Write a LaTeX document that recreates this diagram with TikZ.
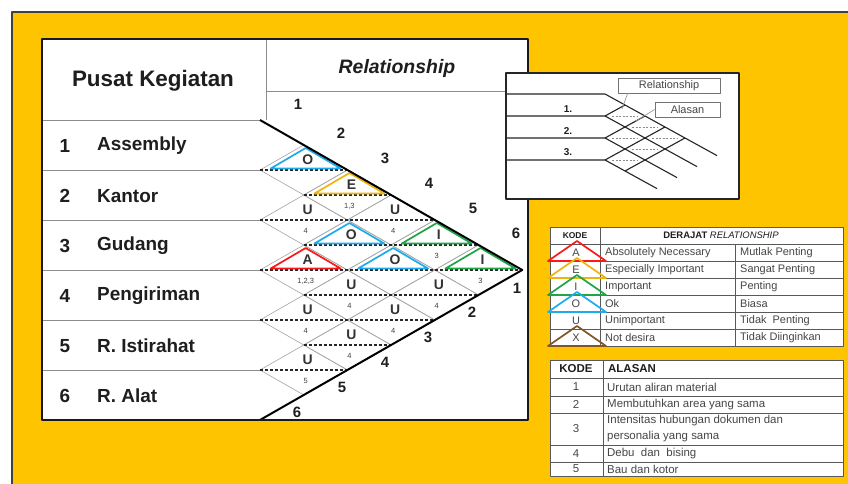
\documentclass[tikz,border=0pt]{standalone}
\usepackage{fontspec}
\setmainfont{Liberation Sans}
\definecolor{bgyellow}{RGB}{255,196,0}
\definecolor{triblue}{RGB}{30,170,235}
\definecolor{triyellow}{RGB}{240,180,10}
\definecolor{trigreen}{RGB}{30,165,70}
\definecolor{trired}{RGB}{250,25,25}
\definecolor{tribrown}{RGB}{130,85,40}
\definecolor{txt}{RGB}{30,30,30}
\definecolor{ltxt}{RGB}{70,70,70}
\begin{document}
\begin{tikzpicture}[x=1bp,y=-1bp,line join=round,
  rowline/.style={draw=black!45,line width=0.9bp},
  diam/.style={draw=black!35,line width=0.6bp},
  cline/.style={draw=black!85,line width=1.1bp,dash pattern=on 3bp off 2bp},
  bound/.style={draw=black,line width=2bp},
  tri/.style={line width=1.7bp},
  rowlab/.style={font=\fontsize{19}{22}\selectfont\bfseries,text=txt,inner sep=0pt},
  bnum/.style={font=\fontsize{15}{17}\selectfont\bfseries,text=txt,inner sep=0pt},
  letter/.style={font=\fontsize{14}{16}\selectfont\bfseries,text=black!80,inner sep=0pt},
  reason/.style={font=\fontsize{7.5}{9}\selectfont,text=black!75,inner sep=0pt},
  tabline/.style={draw=black!65,line width=0.8bp},
  legtxt/.style={font=\fontsize{11}{12}\selectfont,text=ltxt,inner sep=0pt},
  alstxt/.style={font=\fontsize{11.5}{13}\selectfont,text=ltxt,inner sep=0pt},
  minil/.style={draw=black!85,line width=1.1bp}]
\useasboundingbox (0,0) rectangle (848,484);
\fill[white] (0,0) rectangle (848,484);
\fill[bgyellow] (12,12) rectangle (848,484);
\draw[line width=1.8bp,black!75] (12,484) -- (12,12) -- (848,12);

% ---------- main table ----------
\fill[white] (42,39) rectangle (528,420);
\draw[rowline] (266,39) -- (266,120);
\draw[rowline] (266,91) -- (528,91);
\draw[rowline] (42,120) -- (260,120);
\foreach \y in {170,220,270,320,370} \draw[rowline] (42,\y) -- (260,\y);

\def\dd{43.7}
\foreach \i in {1,...,5}{
  \pgfmathtruncatemacro\ip{\i+1}
  \foreach \j in {\ip,...,6}{
    \pgfmathsetmacro\cx{260+(\j-\i)*\dd}
    \pgfmathsetmacro\cy{145+25*(\i+\j-2)}
    \draw[diam] (\cx-\dd,\cy) -- (\cx,\cy-25) -- (\cx+\dd,\cy) -- (\cx,\cy+25) -- cycle;
  }
}
\foreach \y/\a/\b in {170/0/2,195/1/3,220/0/4,245/1/5,270/0/6,295/1/5,320/0/4,345/1/3,370/0/2}
  \draw[cline] (260+\a*\dd,\y) -- (260+\b*\dd,\y);

\foreach \i/\j/\L/\c/\r in {1/2/O/triblue/{},1/3/E/triyellow/{1,3},2/3/U/none/4,1/4/U/none/4,
   2/4/O/triblue/{},1/5/I/trigreen/3,3/4/A/trired/{1,2,3},2/5/O/triblue/{},1/6/I/trigreen/3,
   3/5/U/none/4,2/6/U/none/4,4/5/U/none/4,3/6/U/none/4,4/6/U/none/4,5/6/U/none/5}{
  \pgfmathsetmacro\cx{260+(\j-\i)*\dd}
  \pgfmathsetmacro\cy{145+25*(\i+\j-2)}
  \draw[tri,draw=\c] (\cx-0.8*\dd+2,\cy-1.5) -- (\cx+2,\cy-22) -- (\cx+0.8*\dd+2,\cy-1.5) -- cycle;
  \node[letter] (L\i\j) at (\cx+4,\cy-10) {\L};
  \node[reason] (R\i\j) at (\cx+2,\cy+11) {\r};
}

\coordinate (TL) at (260,120);
\coordinate (AP) at (522.2,270);
\coordinate (BL) at (260,420);
\draw[bound] (TL) -- (AP) -- (BL);

\foreach \n/\x/\y in {1/298/104,2/341/133,3/385/158,4/429/183,5/473/208,6/516/233}
  \node[bnum] (T\n) at (\x,\y) {\n};
\foreach \n/\x/\y in {1/517/288,2/472/312,3/428/337,4/385/362,5/342/387,6/297/412}
  \node[bnum] (B\n) at (\x,\y) {\n};

\node[font=\fontsize{22.5}{26}\selectfont\bfseries,text=txt] (hdr) at (153,81) {Pusat Kegiatan};
\node[font=\fontsize{19.5}{22}\selectfont\bfseries\itshape,text=txt] (rel) at (397,68) {Relationship};
\foreach \n/\t [count=\k from 0] in {1/Assembly,2/Kantor,3/Gudang,4/Pengiriman,5/R. Istirahat,6/R. Alat}{
  \node[rowlab] (N\n) at (65,146+50*\k) {\n};
  \node[rowlab,anchor=west] (P\n) at (97,146+50*\k) {\t};
}
\draw[line width=1.9bp,black!90] (42,39) rectangle (528,420);

% ---------- inset explanation box ----------
\draw[draw=black!85,fill=white,line width=1.3bp] (506,73) rectangle (739,199);
\draw[minil] (506,94) -- (605,94) -- (717,155.6);
\draw[minil] (506,116) -- (605,116) -- (697,166.6);
\draw[minil] (506,138) -- (605,138) -- (677,177.6);
\draw[minil] (506,160) -- (605,160) -- (657,188.6);
\draw[minil] (605,116) -- (625,105);
\draw[minil] (605,138) -- (645,116);
\draw[minil] (605,160) -- (665,127);
\draw[minil] (625,171) -- (685,138);
\foreach \i/\j in {0/1,1/2,2/3,0/2,1/3,0/3}{
  \pgfmathsetmacro\mx{605+(\j-\i)*20}
  \pgfmathsetmacro\my{105+11*(\i+\j)}
  \draw[draw=black!45,line width=0.8bp,dash pattern=on 2bp off 1.5bp] (\mx-13,\my) -- (\mx+13,\my);
}
\foreach \n/\y in {1/109,2/131,3/152}
  \node[font=\fontsize{10}{12}\selectfont\bfseries,text=txt,inner sep=0pt] (m\n) at (568,\y) {\n.};
\node[draw=black!55,line width=0.8bp,fill=white,minimum width=102bp,minimum height=15bp,inner sep=0pt,
  font=\fontsize{11}{12}\selectfont,text=ltxt] (boxrel) at (669,85.5) {Relationship};
\node[draw=black!55,line width=0.8bp,fill=white,minimum width=65bp,minimum height=15bp,inner sep=0pt,
  font=\fontsize{11}{12}\selectfont,text=ltxt] (boxal) at (687.5,109.5) {Alasan};
\coordinate (ptrel) at (622,109);
\coordinate (ptal) at (636,121);
\draw[draw=black!40,line width=0.7bp] ([xshift=10bp]boxrel.south west) -- (ptrel);
\draw[draw=black!40,line width=0.7bp] (boxal.west) -- (ptal);

% ---------- legend: derajat relationship ----------
\fill[white] (550,227) rectangle (843,346);
\foreach \y in {244,261,278,295,312,329} \draw[tabline] (550,\y) -- (843,\y);
\draw[tabline] (600,227) -- (600,346);
\draw[tabline] (735,244) -- (735,346);
\draw[tabline] (550,227) rectangle (843,346);
\node[font=\fontsize{8.5}{10}\selectfont\bfseries,text=txt,inner sep=0pt] (kh1) at (575,235.5) {KODE};
\node[font=\fontsize{9.5}{11}\selectfont,text=txt,inner sep=0pt] (dh1) at (721,235.5) {\textbf{DERAJAT} \textit{RELATIONSHIP}};
\foreach \c/\col/\a/\b [count=\k from 0] in {A/trired/Absolutely Necessary/Mutlak Penting,
   E/triyellow/Especially Important/Sangat Penting,I/trigreen/Important/Penting,
   O/triblue/Ok/Biasa,U/none/Unimportant/Tidak\ \ Penting,X/tribrown/Not desira/Tidak Diinginkan}{
  \pgfmathsetmacro\tp{244+17*\k}
  \draw[draw=\col,line width=1.7bp] (548,\tp+17) -- (577,\tp-3) -- (606,\tp+17) -- cycle;
  \node[legtxt] (kc\k) at (576,\tp+8.5) {\c};
  \node[legtxt,anchor=west] (ka\k) at (605,\tp+8.5) {\a};
  \node[legtxt,anchor=west] (kb\k) at (740,\tp+8.5) {\b};
}

% ---------- legend: alasan ----------
\fill[white] (550,360) rectangle (843,476);
\foreach \y in {378,396,413,445,462} \draw[tabline] (550,\y) -- (843,\y);
\draw[tabline] (603,360) -- (603,476);
\draw[tabline] (550,360) rectangle (843,476);
\node[font=\fontsize{11.5}{13}\selectfont\bfseries,text=txt,inner sep=0pt] (kh2) at (576,369) {KODE};
\node[font=\fontsize{11.5}{13}\selectfont\bfseries,text=txt,inner sep=0pt,anchor=west] (ah2) at (608,369) {ALASAN};
\foreach \n/\y/\t in {1/387/Urutan aliran material,2/404.5/Membutuhkan area yang sama,
   4/453.5/Debu\ \ dan\ \ bising,5/469/Bau dan kotor}{
  \node[alstxt] (an\n) at (576,\y) {\n};
  \node[alstxt,anchor=west] (at\n) at (607,\y) {\t};
}
\node[alstxt] (an3) at (576,429) {3};
\node[alstxt,anchor=west] (at3a) at (607,420.5) {Intensitas hubungan dokumen dan};
\node[alstxt,anchor=west] (at3b) at (607,436.5) {personalia yang sama};
\end{tikzpicture}
\end{document}
